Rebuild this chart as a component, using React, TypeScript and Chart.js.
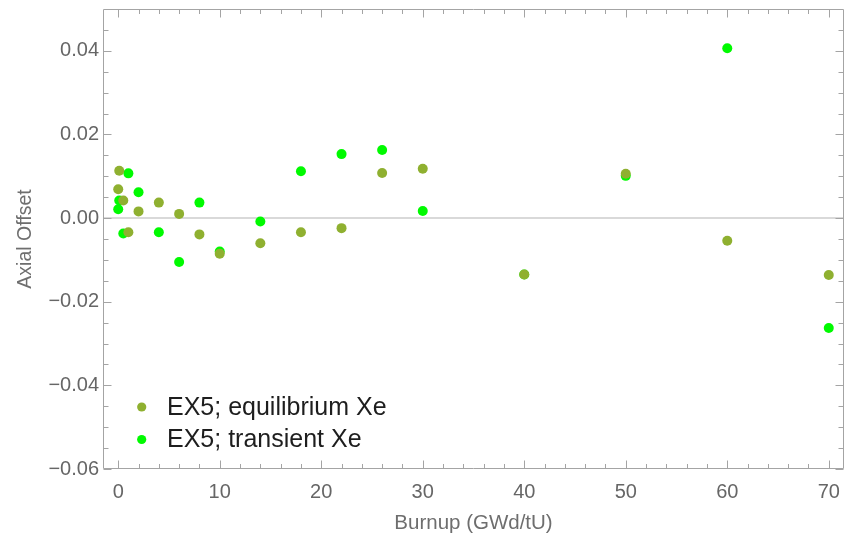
import React, { useEffect, useRef } from 'react';
import { Chart, registerables } from 'chart.js';

Chart.register(...registerables);

// Burnup points (GWd/tU)
const burnup = [0, 0.1, 0.5, 1, 2, 4, 6, 8, 10, 14, 18, 22, 26, 30, 40, 50, 60, 70];
// Axial offset, equilibrium Xe
const eqXe = [0.0069, 0.0113, 0.0042, -0.0034, 0.0016, 0.0037, 0.0010, -0.0039, -0.0085, -0.0060, -0.0034, -0.0024, 0.0108, 0.0118, -0.0135, 0.0106, -0.0054, -0.0136];
// Axial offset, transient Xe
const trXe = [0.0021, 0.0042, -0.0037, 0.0107, 0.0062, -0.0034, -0.0105, 0.0037, -0.0080, -0.0008, 0.0112, 0.0153, 0.0163, 0.0017, -0.0135, 0.0101, 0.0406, -0.0263];

const seriesLabels = ['EX5; equilibrium Xe', 'EX5; transient Xe'];
const xMajorTicks = [0, 10, 20, 30, 40, 50, 60, 70];
const xMinorTicks = [2, 4, 6, 8, 12, 14, 16, 18, 22, 24, 26, 28, 32, 34, 36, 38, 42, 44, 46, 48, 52, 54, 56, 58, 62, 64, 66, 68];
const yMajorTicks = [-0.06, -0.04, -0.02, 0, 0.02, 0.04];
const yMinorTicks = [-0.055, -0.05, -0.045, -0.035, -0.03, -0.025, -0.015, -0.01, -0.005, 0.005, 0.01, 0.015, 0.025, 0.03, 0.035, 0.045];

const FAMILY = '"Liberation Sans", Arial, Helvetica, sans-serif';
const EQ_COLOR = 'rgb(143,176,48)';
const TR_COLOR = 'rgb(0,250,0)';
const FRAME = '#a4a4a4';

function fmtY(v: number) {
  if (Math.abs(v) < 1e-12) return '0.00';
  return (v < 0 ? '\u2212' : '') + Math.abs(v).toFixed(2);
}

export default function App() {
  const ref = useRef<HTMLCanvasElement>(null);

  useEffect(() => {
    const canvas = ref.current!;

    const framePlugin = {
      id: 'frameTicks',
      beforeDatasetsDraw(chart: any) {
        const { ctx, chartArea: a, scales } = chart;
        const xs = scales.x;
        const ys = scales.y;
        const L = Math.round(a.left) + 0.5;
        const R = Math.round(a.right) - 0.5;
        const T = Math.round(a.top) + 0.5;
        const B = Math.round(a.bottom) - 0.5;
        ctx.save();
        ctx.strokeStyle = FRAME;
        ctx.lineWidth = 1;
        ctx.beginPath();
        ctx.rect(L, T, R - L, B - T);
        const vx = (v: number, len: number) => {
          const p = Math.round(xs.getPixelForValue(v)) + 0.5;
          ctx.moveTo(p, B); ctx.lineTo(p, B - len);
          ctx.moveTo(p, T); ctx.lineTo(p, T + len);
        };
        const hy = (v: number, len: number) => {
          const p = Math.round(ys.getPixelForValue(v)) + 0.5;
          ctx.moveTo(L, p); ctx.lineTo(L + len, p);
          ctx.moveTo(R, p); ctx.lineTo(R - len, p);
        };
        xMajorTicks.forEach((v) => vx(v, 8));
        xMinorTicks.forEach((v) => vx(v, 4.5));
        yMajorTicks.forEach((v) => hy(v, 8));
        yMinorTicks.forEach((v) => hy(v, 5));
        ctx.stroke();
        ctx.restore();
      },
    };

    const legendPlugin = {
      id: 'innerLegend',
      afterDraw(chart: any) {
        const { ctx } = chart;
        const colors = [EQ_COLOR, TR_COLOR];
        const rows = [407, 439.5];
        ctx.save();
        ctx.font = `25px ${FAMILY}`;
        ctx.textBaseline = 'middle';
        ctx.textAlign = 'left';
        seriesLabels.forEach((lab, i) => {
          ctx.fillStyle = colors[i];
          ctx.beginPath();
          ctx.arc(141.7, rows[i], 4.6, 0, Math.PI * 2);
          ctx.fill();
          ctx.fillStyle = '#1e1e1e';
          ctx.fillText(lab, 167, rows[i] + 1);
        });
        ctx.restore();
      },
    };

    const chart = new Chart(canvas, {
      type: 'scatter',
      data: {
        datasets: [
          {
            label: seriesLabels[0],
            data: burnup.map((b, i) => ({ x: b, y: eqXe[i] })),
            backgroundColor: EQ_COLOR,
            borderColor: EQ_COLOR,
            pointRadius: 5,
            pointHoverRadius: 5,
            borderWidth: 0,
          },
          {
            label: seriesLabels[1],
            data: burnup.map((b, i) => ({ x: b, y: trXe[i] })),
            backgroundColor: TR_COLOR,
            borderColor: TR_COLOR,
            pointRadius: 5,
            pointHoverRadius: 5,
            borderWidth: 0,
          },
        ],
      },
      options: {
        responsive: false,
        animation: false,
        devicePixelRatio: 1,
        layout: { autoPadding: false, padding: { top: 9, right: 1, bottom: 0, left: 0 } },
        plugins: { legend: { display: false }, tooltip: { enabled: false } },
        scales: {
          x: {
            type: 'linear',
            min: -1.5,
            max: 71.5,
            afterBuildTicks: (s: any) => {
              s.ticks = xMajorTicks.map((v) => ({ value: v }));
            },
            afterFit: (s: any) => {
              s.height = 77;
              s.paddingLeft = 0;
              s.paddingRight = 0;
            },
            grid: { display: false, drawTicks: false },
            border: { display: false },
            ticks: {
              autoSkip: false,
              maxRotation: 0,
              padding: 11,
              color: '#666666',
              font: { family: FAMILY, size: 20, lineHeight: 1.2 },
              callback: (v: any) => String(v),
            },
            title: {
              display: true,
              text: 'Burnup (GWd/tU)',
              color: '#6e6e6e',
              font: { family: FAMILY, size: 20.5, lineHeight: 1.2 },
              padding: { top: 0, bottom: 10.5 },
            },
          },
          y: {
            type: 'linear',
            min: -0.06,
            max: 0.05,
            afterBuildTicks: (s: any) => {
              s.ticks = yMajorTicks.map((v) => ({ value: v }));
            },
            afterFit: (s: any) => {
              s.width = 103;
              s.paddingTop = 0;
              s.paddingBottom = 0;
            },
            grid: {
              drawTicks: false,
              color: (c: any) => (c.tick && Math.abs(c.tick.value) < 1e-12 ? '#d9d9d9' : 'rgba(0,0,0,0)'),
              lineWidth: 2,
            },
            border: { display: false },
            ticks: {
              autoSkip: false,
              padding: 4,
              color: '#666666',
              font: { family: FAMILY, size: 20, lineHeight: 1.2 },
              callback: (v: any) => fmtY(Number(v)),
            },
            title: {
              display: true,
              text: 'Axial Offset',
              color: '#6e6e6e',
              font: { family: FAMILY, size: 19.5, lineHeight: 1.2 },
              padding: { top: 13.5, bottom: 0 },
            },
          },
        },
      },
      plugins: [framePlugin, legendPlugin],
    } as any);

    return () => chart.destroy();
  }, []);

  return (
    <div style={{ position: 'absolute', left: 0, top: 0, width: 845, height: 546, background: '#fff' }}>
      <canvas ref={ref} width={845} height={546} style={{ display: 'block', width: 845, height: 546 }} />
    </div>
  );
}
